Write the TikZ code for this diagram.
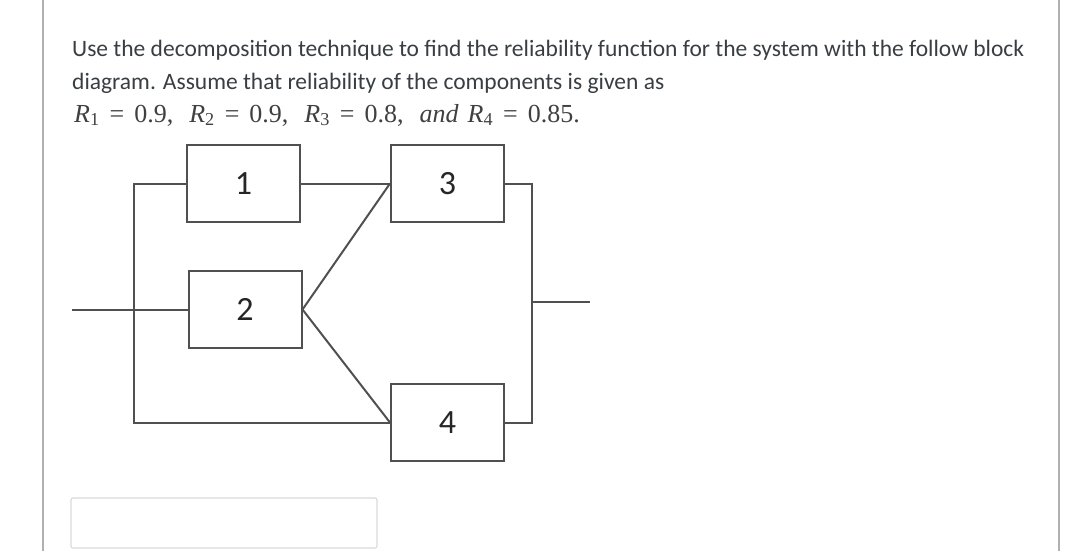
\documentclass[tikz,border=0pt]{standalone}
\usepackage{fontspec}
\usepackage{xcolor}
\usetikzlibrary{positioning}
\setmainfont{Carlito}
\newfontfamily\formulafont{Liberation Serif}
\definecolor{qtext}{RGB}{56,62,66}
\definecolor{qline}{RGB}{80,80,80}
\definecolor{qframe}{RGB}{176,176,176}
\definecolor{qfield}{RGB}{218,218,218}
\newcommand{\eqgap}{\hspace{10pt}=\hspace{10pt}}
\newcommand{\termgap}{\hspace{16pt}}

\tikzset{
  blockbox/.style={draw=qline, line width=2pt, fill=white, minimum width=113pt, minimum height=77pt, inner sep=0pt, text=black!85, font=\fontsize{34}{40}\selectfont},
  wire/.style={draw=qline, line width=2pt},
  textline/.style={anchor=base west, inner sep=0pt, text=qtext, font=\fontsize{23.5}{27}\selectfont},
}

\begin{document}
\begin{tikzpicture}[x=1pt, y=-1pt, line join=miter]
  \useasboundingbox (0,0) rectangle (1080,551);

  % Page frame
  \draw[qframe, line width=1.2pt] (43,0) -- (43,551);
  \draw[qframe, line width=1.2pt] (1059,0) -- (1059,551);

  % Question text
  \node[textline] (line1) at (72,57) {Use the decomposition technique to find the reliability function for the system with the follow block};
  \node[textline] (line2) at (72,89) {diagram. Assume that reliability of the components is given as};
  \node[textline, text=black!75, font=\fontsize{26}{27}\formulafont] (line3) at (74,122)
    {\textit{R}\textsubscript{1}\eqgap 0.9,\termgap\textit{R}\textsubscript{2}\eqgap 0.9,\termgap\textit{R}\textsubscript{3}\eqgap 0.8,\termgap\textit{and}\hspace{9pt}\textit{R}\textsubscript{4}\eqgap 0.85.};

  % Blocks
  \node[blockbox] (b1) at (243.5,183.5) {1};
  \node[blockbox] (b2) at (245,309.5) {2};
  \node[blockbox] (b3) at (447.5,183.5) {3};
  \node[blockbox] (b4) at (447.5,422.5) {4};

  % Free ends and junctions
  \coordinate (in) at (72,309.5);
  \coordinate (splitL) at (134,309.5);
  \coordinate (splitR) at (532,302);
  \coordinate (out) at (590,302);

  % Wires
  \draw[wire] (b1.west) -| (splitL) |- (b4.west);
  \draw[wire] (in) -- (b2.west);
  \draw[wire] (b1.east) -- (b3.west);
  \draw[wire] (b2.east) -- (b3.west);
  \draw[wire] (b2.east) -- (b4.west);
  \draw[wire] (b3.east) -| (splitR) |- (b4.east);
  \draw[wire] (splitR) -- (out);

  % Answer field
  \node[draw=qfield, line width=1.2pt, rounded corners=2pt, minimum width=306pt, minimum height=50pt, inner sep=0pt] (answer) at (224,523) {};

\end{tikzpicture}
\end{document}
